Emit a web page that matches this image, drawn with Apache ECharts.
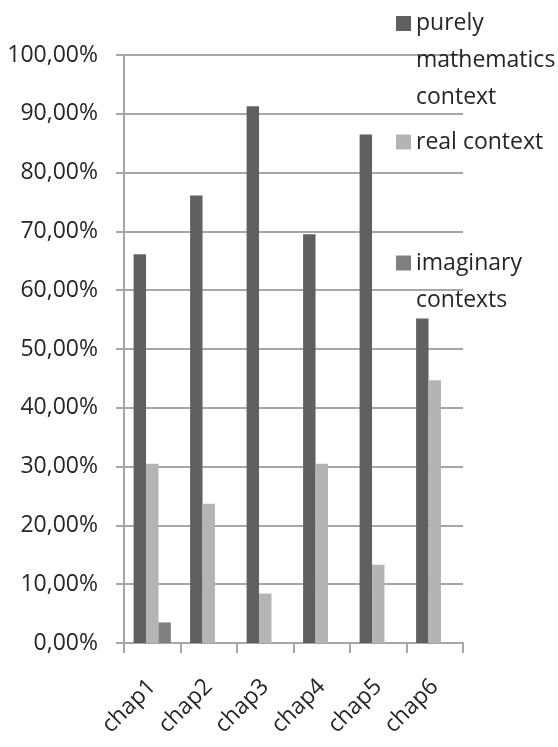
<!DOCTYPE html>
<html lang="en">
<head>
    <meta charset="UTF-8">
    <title>chapters context</title>
    <script src="https://cdn.jsdelivr.net/npm/echarts@6/dist/echarts.min.js"></script>
    <style>
        html, body { margin: 0; padding: 0; background: #fff; }
    </style>
</head>
<body>
<div id="main" style="width: 558px;height:747px;"></div>

<script type="text/javascript">
    // data (percent)
    var chapters = ['chap1', 'chap2', 'chap3', 'chap4', 'chap5', 'chap6'];
    var purelyMath = [66.1, 76.1, 91.3, 69.5, 86.5, 55.2];
    var realContext = [30.5, 23.7, 8.4, 30.5, 13.3, 44.7];
    var imaginaryContext = [3.5, 0, 0, 0, 0, 0];
    var yTickLabels = ['0,00%', '10,00%', '20,00%', '30,00%', '40,00%', '50,00%',
        '60,00%', '70,00%', '80,00%', '90,00%', '100,00%'];

    var names = ['purely\nmathematics\ncontext', 'real context', 'imaginary\ncontexts'];
    var font = 'Open Sans';

    // one legend per item, the reference spaces them unevenly
    // empty lines in front so the square sits on the first line of the text
    function legendItem(name, top) {
        var lines = name.split('\n').length;
        return {
            data: [name],
            left: 396,
            top: top,
            padding: 0,
            icon: 'rect',
            itemWidth: 15,
            itemHeight: 15,
            itemGap: 5,
            selectedMode: false,
            formatter: function (n) {
                return new Array(lines).join('\n') + n;
            },
            textStyle: {
                fontFamily: font,
                fontSize: 23,
                color: '#262626',
                lineHeight: 37
            }
        };
    }

    var myChart = echarts.init(document.getElementById('main'));
    var option = {
        animation: false,
        color: ['#606060', '#b4b4b4', '#808080'],
        legend: [
            legendItem(names[0], -69),
            legendItem(names[1], 123.5),
            legendItem(names[2], 207.5)
        ],
        grid: {
            left: 124,
            right: 95,
            top: 55,
            bottom: 104
        },
        xAxis: {
            type: 'category',
            data: chapters,
            axisLine: { lineStyle: { color: '#a6a6a6', width: 2 } },
            axisTick: { show: true, length: 10, lineStyle: { color: '#a6a6a6', width: 2 } },
            axisLabel: {
                rotate: 45,
                margin: 40,
                fontFamily: font,
                fontSize: 23,
                color: '#262626'
            }
        },
        yAxis: {
            type: 'value',
            min: 0,
            max: 100,
            interval: 10,
            axisLine: { show: true, lineStyle: { color: '#a6a6a6', width: 2 } },
            axisTick: { show: true, length: 8, lineStyle: { color: '#a6a6a6', width: 2 } },
            splitLine: { lineStyle: { color: '#a6a6a6', width: 2 } },
            axisLabel: {
                margin: 26,
                fontFamily: font,
                fontSize: 23,
                color: '#262626',
                formatter: function (v) {
                    return yTickLabels[Math.round(v / 10)];
                }
            }
        },
        series: [
            { name: names[0], type: 'bar', data: purelyMath, barGap: '0%', barCategoryGap: '34%' },
            { name: names[1], type: 'bar', data: realContext, barGap: '0%', barCategoryGap: '34%' },
            { name: names[2], type: 'bar', data: imaginaryContext, barGap: '0%', barCategoryGap: '34%' }
        ]
    };
    myChart.setOption(option);
</script>
</body>
</html>
